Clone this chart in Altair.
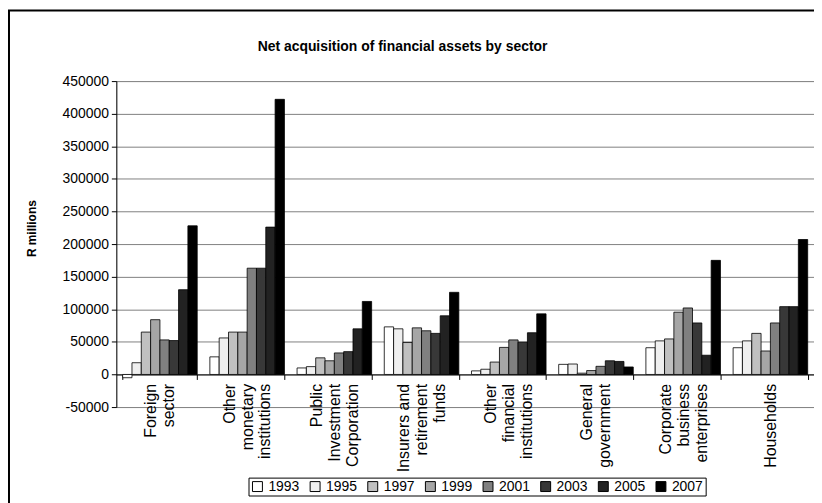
import altair as alt
import pandas as pd

chart_title = "Net acquisition of financial assets by sector"
years = ["1993", "1995", "1997", "1999", "2001", "2003", "2005", "2007"]
sectors = [
    "Foreign\nsector",
    "Other\nmonetary\ninstitutions",
    "Public\nInvestment\nCorporation",
    "Insurers and\nretirement\nfunds",
    "Other\nfinancial\ninstitutions",
    "General\ngovernment",
    "Corporate\nbusiness\nenterprises",
    "Households",
]
foreign_sector = [-5000, 18000, 65000, 84000, 53000, 52000, 130000, 228000]
other_monetary = [27000, 56000, 65000, 65000, 163000, 163000, 226000, 422000]
public_investment = [10000, 12000, 25500, 21000, 33000, 35000, 70000, 112000]
insurers_retirement = [73000, 70000, 49000, 71500, 67000, 63000, 90000, 126000]
other_financial = [5500, 8000, 19000, 41500, 53000, 49500, 64000, 93000]
general_government = [15500, 16000, 2000, 6000, 12500, 21000, 20000, 11500]
corporate_business = [41000, 51500, 54500, 95500, 102000, 79000, 29500, 175000]
households = [41000, 51500, 63000, 36000, 79000, 104000, 104000, 207000]
year_colors = ["#FFFFFF", "#EFEFEF", "#C0C0C0", "#A6A6A6", "#808080", "#383838", "#222222", "#000000"]
y_ticks = list(range(-50000, 450001, 50000))

series = [foreign_sector, other_monetary, public_investment, insurers_retirement,
          other_financial, general_government, corporate_business, households]
rows = []
for s, vals in zip(sectors, series):
    for yr, v in zip(years, vals):
        rows.append({"sector": s, "year": yr, "value": v})
df = pd.DataFrame(rows)

W, H = 702, 328
FONT = "Liberation Sans"
LH = 18

label_offset = {
    "condition": [
        {"test": "length(split(datum.value, '\\n')) == 3", "value": -LH},
        {"test": "length(split(datum.value, '\\n')) == 2", "value": -LH / 2},
    ],
    "value": 0,
}

bars = alt.Chart(df).mark_bar(stroke="black", strokeWidth=0.8).encode(
    x=alt.X("sector:N", sort=sectors, title=None,
            scale=alt.Scale(paddingInner=0.145, paddingOuter=0.0725),
            axis=alt.Axis(labelAngle=-90, labelExpr="split(datum.label, '\\n')",
                          tickBand="extent", tickSize=5, tickColor="black",
                          domainColor="black", labelColor="black",
                          labelFontSize=16, labelLineHeight=LH, labelPadding=4,
                          labelOffset=label_offset,
                          offset=-32.8, grid=False, labelFont=FONT)),
    xOffset=alt.XOffset("year:N", sort=years),
    y=alt.Y("value:Q", title="R millions",
            scale=alt.Scale(domain=[-50000, 450000], nice=False, zero=False),
            axis=alt.Axis(values=y_ticks, labelExpr="'' + datum.value", tickSize=5,
                          tickColor="black", domainColor="black", labelColor="black",
                          labelFontSize=14, labelFont=FONT, labelPadding=3,
                          gridColor="#808080",
                          titleFont=FONT, titleFontSize=12, titleFontWeight="bold",
                          titleColor="black", titleX=-78, titleY=148)),
    color=alt.Color("year:N", sort=years,
                    scale=alt.Scale(domain=years, range=year_colors),
                    legend=alt.Legend(title=None, orient="none", direction="horizontal",
                                      columns=8, legendX=133, legendY=399,
                                      symbolType="square", symbolSize=100,
                                      symbolStrokeColor="black", symbolStrokeWidth=1,
                                      labelFontSize=14, labelFont=FONT, labelColor="black",
                                      strokeColor="black", padding=2, columnPadding=8,
                                      symbolOffset=0, labelOffset=4)),
)

border = alt.Chart(pd.DataFrame({"a": [0]})).mark_rect(
    filled=False, stroke="black", strokeWidth=2
).encode(
    x=alt.value(-108), x2=alt.value(W + 60), y=alt.value(-71), y2=alt.value(H + 200)
)

title_text = alt.Chart(pd.DataFrame({"t": [chart_title]})).mark_text(
    font=FONT, fontSize=14, fontWeight="bold", color="black",
    align="center", baseline="middle"
).encode(x=alt.value(288), y=alt.value(-34), text="t:N")

chart = alt.layer(border, bars, title_text).properties(
    width=W, height=H,
    autosize=alt.AutoSizeParams(type="none"),
    padding={"left": 109, "top": 72, "right": 0, "bottom": 95},
).configure_view(stroke="#808080", strokeWidth=1).configure(background="white")

chart.save("out.html", embed_options={"renderer": "svg", "actions": False})
